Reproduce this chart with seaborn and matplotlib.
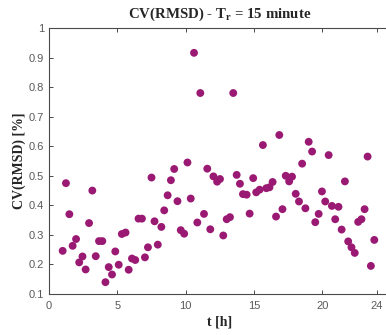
import matplotlib
matplotlib.use("Agg")
import matplotlib.pyplot as plt
import seaborn as sns
import pandas as pd

hours = [1.00, 1.24, 1.49, 1.73, 1.98, 2.21, 2.45, 2.68, 2.93, 3.17,
         3.42, 3.66, 3.90, 4.13, 4.37, 4.61, 4.85, 5.10, 5.33, 5.60,
         5.83, 6.07, 6.31, 6.55, 6.80, 7.02, 7.24, 7.50, 7.72, 7.96,
         8.22, 8.43, 8.68, 8.92, 9.16, 9.40, 9.64, 9.89, 10.13, 10.37,
         10.61, 10.85, 11.07, 11.34, 11.58, 11.80, 12.03, 12.30, 12.51, 12.75,
         13.00, 13.24, 13.48, 13.73, 13.97, 14.19, 14.46, 14.68, 14.94, 15.16,
         15.41, 15.65, 15.90, 16.13, 16.36, 16.61, 16.85, 17.08, 17.32, 17.57,
         17.78, 18.05, 18.29, 18.52, 18.76, 19.00, 19.25, 19.48, 19.73, 19.97,
         20.21, 20.46, 20.70, 20.94, 21.18, 21.41, 21.65, 21.89, 22.13, 22.37,
         22.62, 22.86, 23.09, 23.31, 23.55, 23.80]
cv_rmsd = [0.246, 0.475, 0.370, 0.263, 0.286, 0.207, 0.227, 0.183, 0.340, 0.450,
           0.228, 0.279, 0.279, 0.140, 0.191, 0.166, 0.244, 0.199, 0.303, 0.308,
           0.182, 0.220, 0.215, 0.355, 0.355, 0.224, 0.258, 0.494, 0.346, 0.267,
           0.327, 0.383, 0.434, 0.485, 0.523, 0.414, 0.316, 0.304, 0.545, 0.423,
           0.916, 0.342, 0.780, 0.371, 0.524, 0.319, 0.498, 0.480, 0.489, 0.298,
           0.353, 0.360, 0.780, 0.503, 0.473, 0.438, 0.436, 0.372, 0.492, 0.444,
           0.453, 0.604, 0.458, 0.461, 0.479, 0.362, 0.638, 0.387, 0.500, 0.481,
           0.497, 0.439, 0.413, 0.541, 0.390, 0.615, 0.582, 0.343, 0.371, 0.447,
           0.413, 0.570, 0.398, 0.353, 0.395, 0.318, 0.481, 0.278, 0.258, 0.239,
           0.344, 0.353, 0.387, 0.565, 0.195, 0.283]

x_ticks = [0, 5, 10, 15, 20, 24]
y_ticks = [0.1, 0.2, 0.3, 0.4, 0.5, 0.6, 0.7, 0.8, 0.9, 1.0]
y_tick_labels = ["0.1", "0.2", "0.3", "0.4", "0.5", "0.6", "0.7", "0.8", "0.9", "1"]

df = pd.DataFrame({"t": hours, "cv": cv_rmsd})

sns.set_style("white")
plt.rcParams["font.family"] = ["Liberation Sans", "DejaVu Sans"]
plt.rcParams["mathtext.fontset"] = "custom"
plt.rcParams["mathtext.rm"] = "Liberation Serif:bold"
plt.rcParams["mathtext.it"] = "Liberation Serif:bold"
plt.rcParams["mathtext.bf"] = "Liberation Serif:bold"

fig = plt.figure(figsize=(3.86, 3.35), dpi=100)
ax = fig.add_axes([49/386, 41/335, 341.7/386, 266/335])

sns.scatterplot(data=df, x="t", y="cv", ax=ax, color="#9a1a73",
                s=32, edgecolor="none", legend=False)

ax.set_xlim(0, 25)
ax.set_ylim(0.1, 1.0)
ax.set_xticks(x_ticks)
ax.set_yticks(y_ticks)
ax.set_yticklabels(y_tick_labels)

for sp in ["left", "bottom", "top"]:
    ax.spines[sp].set_visible(True)
    ax.spines[sp].set_color("#4a4a4a")
    ax.spines[sp].set_linewidth(0.8)
ax.spines["right"].set_visible(False)

ax.tick_params(axis="both", direction="in", length=3, width=0.7,
               colors="#4a4a4a", labelsize=8, labelcolor="#5a5a5a",
               top=True, bottom=True, left=True, right=False)
ax.tick_params(axis="x", pad=5)

serif = ["Liberation Serif", "DejaVu Serif"]
ax.set_title("CV(RMSD) - T$_{r}$ = 15 minute", family=serif,
             fontweight="bold", fontsize=10.7, pad=7)
ax.set_xlabel("t [h]", family=serif, fontweight="bold", fontsize=10,
              labelpad=3)
ax.set_ylabel("CV(RMSD) [%]", family=serif, fontweight="bold", fontsize=10,
              labelpad=2)

fig.savefig("out.png", dpi=100)
